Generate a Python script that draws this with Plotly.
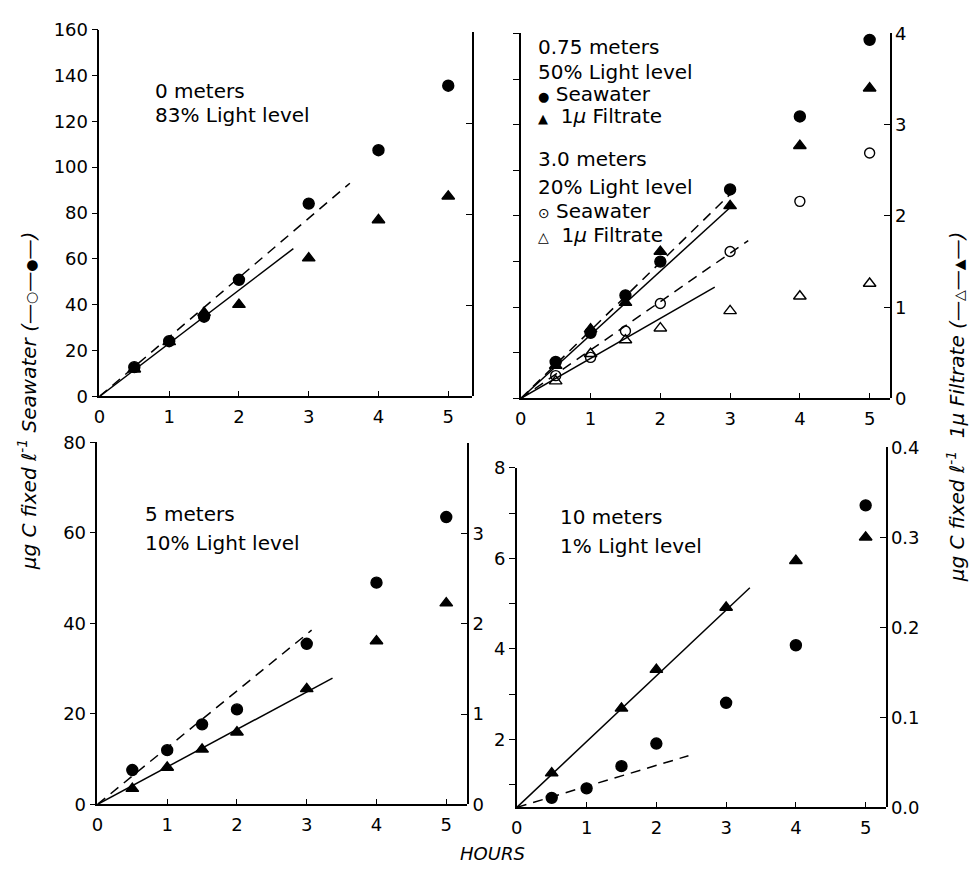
import plotly.graph_objects as go

W, H = 971, 873
FONT = "DejaVu Sans"

# ---- data: hours of incubation ----
hours = [0.5, 1, 1.5, 2, 3, 4, 5]
hours_10m_filtrate = [0.5, 1.5, 2, 3, 4, 5]

# 0 m, 83% light level (seawater on left scale, filtrate on right scale)
sw_0m = [12.8, 24.1, 34.8, 50.9, 84.1, 107.4, 135.5]
flt_0m = [0.30, 0.60, 0.92, 1.01, 1.52, 1.94, 2.20]

# 0.75 m, 50% light level
sw_075m = [16.0, 28.8, 45.2, 60.0, 91.6, 123.6, 157.2]
flt_075m = [0.36, 0.76, 1.05, 1.61, 2.11, 2.77, 3.40]

# 3.0 m, 20% light level
sw_3m = [10.0, 18.0, 29.6, 41.6, 64.4, 86.4, 107.6]
flt_3m = [0.19, 0.49, 0.64, 0.77, 0.96, 1.12, 1.26]

# 5 m, 10% light level
sw_5m = [7.6, 12.0, 17.7, 21.0, 35.5, 49.0, 63.5]
flt_5m = [0.175, 0.41, 0.61, 0.80, 1.28, 1.81, 2.23]

# 10 m, 1% light level
sw_10m = [0.71, 0.92, 1.41, 1.91, 2.81, 4.08, 7.17]
flt_10m = [0.038, 0.110, 0.153, 0.222, 0.274, 0.300]

# fitted initial-rate lines: (panel, scale, style, end hour, end value)
fit_lines = [
    ("TL", "left", "dash", 3.59, 93.0),
    ("TL", "right", "solid", 2.78, 1.625),
    ("TR", "left", "dash", 3.07, 91.6),
    ("TR", "right", "solid", 3.04, 2.12),
    ("TR", "left", "dash", 3.26, 69.2),
    ("TR", "right", "solid", 2.78, 1.22),
    ("BL", "left", "dash", 3.07, 38.5),
    ("BL", "right", "solid", 3.37, 1.40),
    ("BR", "left", "dash", 2.46, 1.64),
    ("BR", "right", "solid", 3.34, 0.244),
]

# ---- panel geometry (pixels) and scales ----
PX_PER_HOUR = 70.2
panels = {
    "TL": dict(idx=0, x0=94, x1=469, ly=(19, 395), ry=(22, 395),
               lrange=[0, 160], ltick=list(range(0, 161, 20)), lminor=[], lshow=True,
               rrange=[0, 4], rtick=[0, 1, 2, 3, 4], rminor=[], rshow=False, rfmt=None),
    "TR": dict(idx=1, x0=518, x1=889, ly=(23, 397), ry=(23, 397),
               lrange=[0, 160], ltick=list(range(0, 161, 20)), lminor=[], lshow=False,
               rrange=[0, 4], rtick=[0, 1, 2, 3, 4], rminor=[], rshow=True, rfmt=None),
    "BL": dict(idx=2, x0=92, x1=464, ly=(442, 813), ry=(443, 813),
               lrange=[0, 80], ltick=[0, 20, 40, 60, 80], lminor=[], lshow=True,
               rrange=[0, 4], rtick=[0, 1, 2, 3], rminor=[4], rshow=True, rfmt=None),
    "BR": dict(idx=3, x0=514, x1=885, ly=(468, 816), ry=(447, 816),
               lrange=[0.5, 8], ltick=[2, 4, 6, 8], lminor=[1, 3, 5, 7], lshow=True,
               rrange=[0, 0.4], rtick=[0, 0.1, 0.2, 0.3, 0.4], rminor=[], rshow=True, rfmt=".1f"),
}


def fx(px):
    return px / W


def fy(py):
    return 1 - py / H


fig = go.Figure()
layout = dict(width=W, height=H, margin=dict(l=0, r=0, t=0, b=0),
              paper_bgcolor="white", plot_bgcolor="rgba(0,0,0,0)", showlegend=False,
              font=dict(family=FONT, size=19, color="black"))

TICKFONT = dict(size=18, family=FONT, color="black")
axis_ids = {}
for name, p in panels.items():
    i = p["idx"]
    lx, rx = 2 * i + 1, 2 * i + 2
    axis_ids[name] = (lx, rx)
    xmax = (p["x1"] - p["x0"]) / PX_PER_HOUR
    xdom = [fx(p["x0"]), fx(p["x1"])]
    layout[f"xaxis{lx}"] = dict(domain=xdom, range=[0, xmax], anchor=f"y{lx}",
                                tickvals=[0, 1, 2, 3, 4, 5], ticks="inside", ticklen=6,
                                tickwidth=1.4, tickcolor="black", showline=True, linecolor="black",
                                linewidth=1.6, showgrid=False, zeroline=False,
                                tickfont=TICKFONT, ticklabelstandoff=3)
    layout[f"xaxis{rx}"] = dict(domain=xdom, range=[0, xmax], anchor=f"y{rx}",
                                visible=False, showgrid=False, zeroline=False)
    ly = dict(domain=[fy(p["ly"][1]), fy(p["ly"][0])], range=p["lrange"],
              anchor=f"x{lx}", side="left", tickvals=p["ltick"], showticklabels=p["lshow"],
              ticks="outside", ticklen=6, tickwidth=1.4, tickcolor="black",
              showline=True, linecolor="black", linewidth=1.6,
              showgrid=False, zeroline=False, tickfont=TICKFONT)
    if p["lminor"]:
        ly["minor"] = dict(tickvals=p["lminor"], ticks="outside", ticklen=6,
                           tickwidth=1.4, tickcolor="black", showgrid=False)
    layout[f"yaxis{lx}"] = ly
    ry = dict(domain=[fy(p["ry"][1]), fy(p["ry"][0])], range=p["rrange"],
              anchor=f"x{rx}", side="right", tickvals=p["rtick"], showticklabels=p["rshow"],
              ticks="inside", ticklen=6, tickwidth=1.4, tickcolor="black",
              showline=True, linecolor="black", linewidth=1.6,
              showgrid=False, zeroline=False, tickfont=TICKFONT)
    if p["rfmt"]:
        ry["tickformat"] = p["rfmt"]
    if p["rminor"]:
        ry["minor"] = dict(tickvals=p["rminor"], ticks="inside", ticklen=6,
                           tickwidth=1.4, tickcolor="black", showgrid=False)
    layout[f"yaxis{rx}"] = ry


def add_points(panel, side, xs, ys, symbol, size):
    lx, rx = axis_ids[panel]
    a = lx if side == "left" else rx
    fig.add_trace(go.Scatter(x=xs, y=ys, mode="markers", xaxis=f"x{a}", yaxis=f"y{a}",
                             marker=dict(symbol=symbol, size=size, color="black",
                                         line=dict(color="black", width=1.4)),
                             cliponaxis=False, hoverinfo="skip"))


# fitted lines first so markers sit on top
for panel, side, style, xe, ye in fit_lines:
    lx, rx = axis_ids[panel]
    a = lx if side == "left" else rx
    p = panels[panel]
    y0 = p["lrange"][0] if side == "left" else p["rrange"][0]
    fig.add_trace(go.Scatter(x=[0, xe], y=[y0, ye], mode="lines", xaxis=f"x{a}", yaxis=f"y{a}",
                             line=dict(color="black", width=1.5,
                                       dash="10px,7px" if style == "dash" else "solid"),
                             hoverinfo="skip"))

add_points("TL", "left", hours, sw_0m, "circle", 11)
add_points("TL", "right", hours, flt_0m, "triangle-up", 11)
add_points("TR", "left", hours, sw_075m, "circle", 11)
add_points("TR", "right", hours, flt_075m, "triangle-up", 11)
add_points("TR", "left", hours, sw_3m, "circle-open", 10)
add_points("TR", "right", hours, flt_3m, "triangle-up-open", 11)
add_points("BL", "left", hours, sw_5m, "circle", 11)
add_points("BL", "right", hours, flt_5m, "triangle-up", 11)
add_points("BR", "left", hours, sw_10m, "circle", 11)
add_points("BR", "right", hours_10m_filtrate, flt_10m, "triangle-up", 11)

ann = []


def text(x, y, s, size=20, **kw):
    d = dict(x=fx(x), y=fy(y), xref="paper", yref="paper", text=s, showarrow=False,
             xanchor="left", yanchor="middle", font=dict(family=FONT, size=size, color="black"))
    d.update(kw)
    ann.append(d)


def small(sym, px):
    return f"<span style='font-size:{px}px'>{sym}</span>"


# panel captions
text(148, 82, "0 meters")
text(148, 107, "83% Light level")
text(533, 37, "0.75 meters")
text(533, 62, "50% Light level")
text(533, 85, small("●", 13) + " Seawater")
text(533, 108, small("▲", 13) + "  1<i>µ</i> Filtrate")
text(533, 152, "3.0 meters")
text(533, 180, "20% Light level")
text(533, 205, small("⊙", 14) + " Seawater")
text(533, 230, small("△", 14) + "  1<i>µ</i> Filtrate")
text(138, 515, "5 meters")
text(138, 545, "10% Light level")
text(555, 518, "10 meters")
text(555, 548, "1% Light level")

# axis titles
text(490, 863, "<i>HOURS</i>", size=18, xanchor="center")
text(22, 400, "<i>µg C fixed ℓ<sup>-1</sup> Seawater (—" + small("○", 14) + "—"
     + small("●", 14) + "—)</i>", size=20, xanchor="center", textangle=-90)
text(956, 406, "<i>µg C fixed ℓ<sup>-1</sup>  1µ Filtrate (—" + small("△", 14) + "—"
     + small("▲", 14) + "—)</i>", size=20, xanchor="center", textangle=-90)

layout["annotations"] = ann
fig.update_layout(**layout)
fig.write_html("out.html")
